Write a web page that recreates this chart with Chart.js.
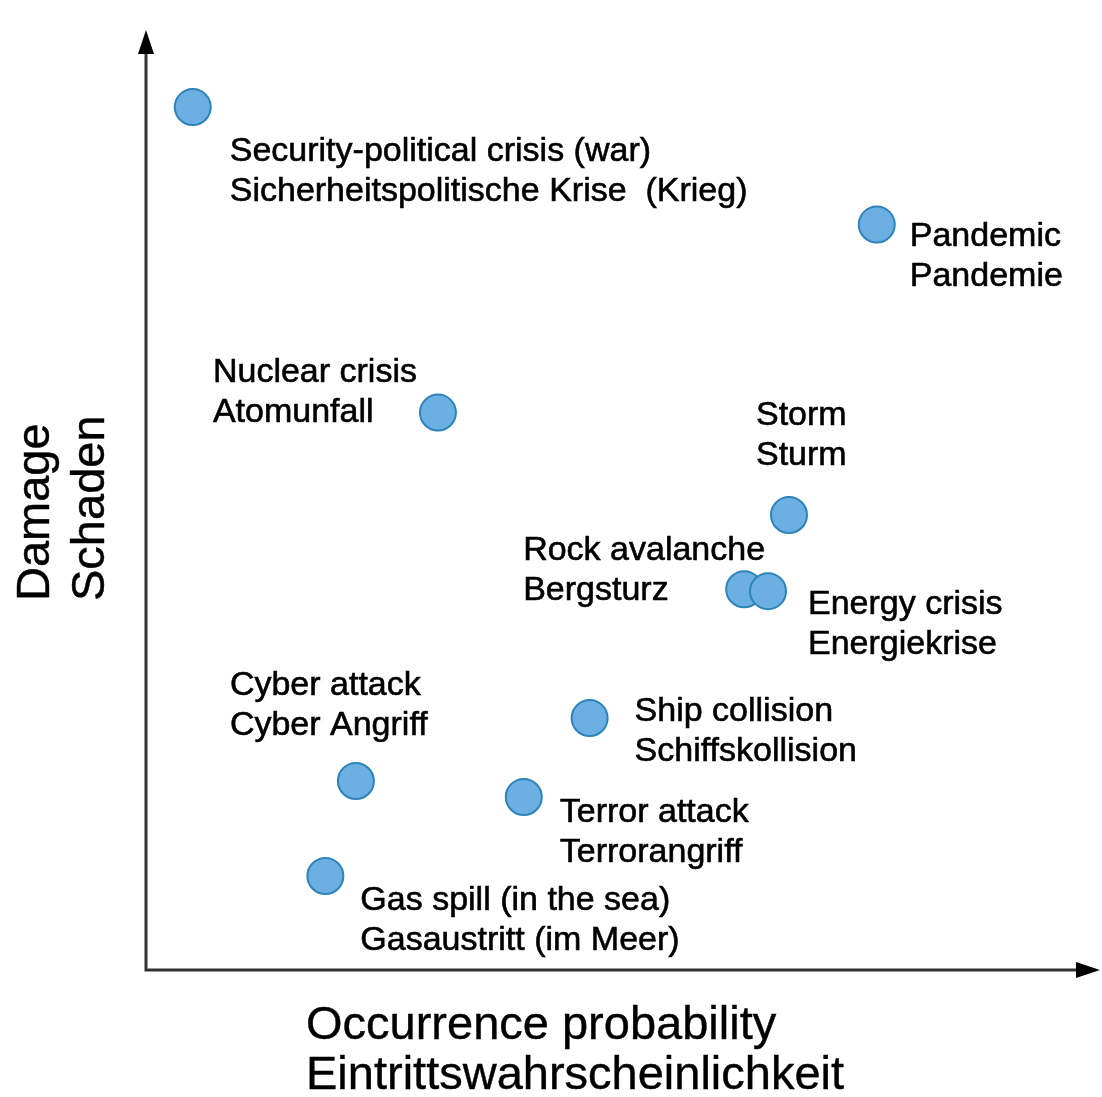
<!DOCTYPE html>
<html>
<head>
<meta charset="utf-8">
<script src="https://cdn.jsdelivr.net/npm/chart.js@4.4.1/dist/chart.umd.min.js"></script>
<style>
  html, body { margin: 0; padding: 0; background: #fff; }
  #wrap { width: 1102px; height: 1097px; }
</style>
</head>
<body>
<div id="wrap"><canvas id="riskChart"></canvas></div>
<script>
// risk names (english / german)
const namesEn = ['Security-political crisis (war)', 'Pandemic', 'Nuclear crisis', 'Storm', 'Rock avalanche',
  'Energy crisis', 'Ship collision', 'Cyber attack', 'Terror attack', 'Gas spill (in the sea)'];
const namesDe = ['Sicherheitspolitische Krise  (Krieg)', 'Pandemie', 'Atomunfall', 'Sturm', 'Bergsturz',
  'Energiekrise', 'Schiffskollision', 'Cyber Angriff', 'Terrorangriff', 'Gasaustritt (im Meer)'];
// occurrence probability and damage (0-100, relative)
const probability = [4.9, 76.6, 30.6, 67.4, 62.7, 65.2, 46.5, 22.0, 39.6, 18.8];
const damage = [91.8, 79.3, 59.3, 48.4, 40.5, 40.3, 26.8, 20.1, 18.4, 10.0];

const xTitle = ['Occurrence probability', 'Eintrittswahrscheinlichkeit'];
const yTitle = ['Damage', 'Schaden'];

// where each label sits relative to its point (px)
const labelOffsets = [[37, 45], [33, 12], [-225, -40], [-33, -99], [-221, -39],
  [40, 13], [45, -6], [-126, -95], [36, 16], [35, 25]];

const FONT = '"Liberation Sans", Arial, sans-serif';

// draw text slightly heavier, like the scanned original
function heavyText(ctx, txt, x, y) {
  ctx.fillText(txt, x, y);
  ctx.strokeText(txt, x, y);
}

const decorPlugin = {
  id: 'decor',
  afterDatasetsDraw(chart) {
    const ctx = chart.ctx;
    const a = chart.chartArea;
    const meta = chart.getDatasetMeta(0);
    ctx.save();

    // axes with arrows
    ctx.strokeStyle = '#333';
    ctx.fillStyle = '#000';
    ctx.lineWidth = 3;
    ctx.beginPath();
    ctx.moveTo(a.left, a.top + 20);
    ctx.lineTo(a.left, a.bottom);
    ctx.lineTo(a.right - 20, a.bottom);
    ctx.stroke();
    ctx.beginPath();
    ctx.moveTo(a.left, a.top);
    ctx.lineTo(a.left - 8, a.top + 24);
    ctx.lineTo(a.left + 8, a.top + 24);
    ctx.closePath();
    ctx.fill();
    ctx.beginPath();
    ctx.moveTo(a.right, a.bottom);
    ctx.lineTo(a.right - 24, a.bottom - 8);
    ctx.lineTo(a.right - 24, a.bottom + 8);
    ctx.closePath();
    ctx.fill();

    // point labels
    ctx.fillStyle = '#000';
    ctx.strokeStyle = '#000';
    ctx.lineWidth = 0.6;
    ctx.font = '34px ' + FONT;
    ctx.textAlign = 'left';
    ctx.textBaseline = 'middle';
    meta.data.forEach((pt, i) => {
      const x = pt.x + labelOffsets[i][0];
      const y = pt.y + labelOffsets[i][1];
      heavyText(ctx, namesEn[i], x, y);
      heavyText(ctx, namesDe[i], x, y + 40);
    });

    // axis titles
    ctx.font = '47px ' + FONT;
    ctx.lineWidth = 0.4;
    heavyText(ctx, xTitle[0], 306, 1026);
    heavyText(ctx, xTitle[1], 306, 1076);
    ctx.translate(0, 601);
    ctx.rotate(-Math.PI / 2);
    heavyText(ctx, yTitle[0], 0, 36);
    heavyText(ctx, yTitle[1], 0, 91);
    ctx.restore();
  }
};

new Chart(document.getElementById('riskChart'), {
  type: 'scatter',
  data: {
    datasets: [{
      data: probability.map((p, i) => ({ x: p, y: damage[i] })),
      pointRadius: 18,
      pointHoverRadius: 18,
      pointBackgroundColor: '#6cafe2',
      pointBorderColor: '#2c84b8',
      pointBorderWidth: 2
    }]
  },
  options: {
    responsive: true,
    maintainAspectRatio: false,
    animation: false,
    layout: { autoPadding: false, padding: { left: 146, right: 2, top: 30, bottom: 127 } },
    plugins: { legend: { display: false }, tooltip: { enabled: false } },
    scales: {
      x: { display: false, min: 0, max: 100 },
      y: { display: false, min: 0, max: 100 }
    }
  },
  plugins: [decorPlugin]
});
</script>
</body>
</html>
